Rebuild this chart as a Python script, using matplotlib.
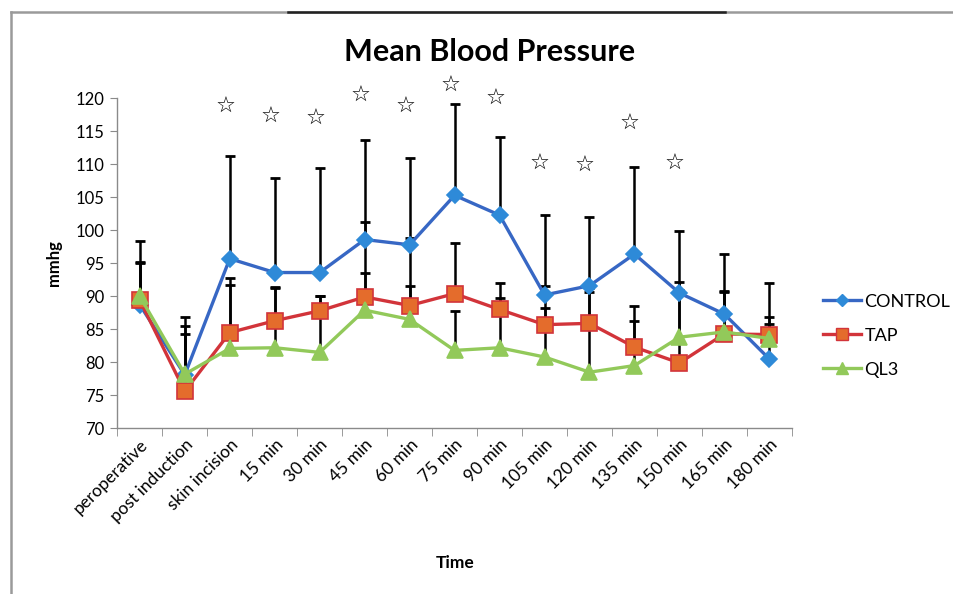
import matplotlib

matplotlib.use("Agg")
import matplotlib.pyplot as plt
import numpy as np
from matplotlib.lines import Line2D

plt.rcParams["font.family"] = ["Lato", "DejaVu Sans"]

# data
labels = ["peroperative", "post induction", "skin incision", "15 min", "30 min",
          "45 min", "60 min", "75 min", "90 min", "105 min", "120 min",
          "135 min", "150 min", "165 min", "180 min"]
control = [88.7, 78.1, 95.7, 93.6, 93.6, 98.6, 97.8, 105.3, 102.3, 90.2, 91.6, 96.4, 90.5, 87.3, 80.5]
tap = [89.4, 75.6, 84.5, 86.3, 87.8, 89.9, 88.6, 90.4, 88.0, 85.7, 85.9, 82.3, 79.9, 84.3, 84.2]
ql3 = [90.0, 78.2, 82.1, 82.2, 81.5, 87.9, 86.5, 81.8, 82.2, 80.8, 78.5, 79.5, 83.8, 84.6, 83.6]
control_top = [98.4, 86.8, 111.3, 107.9, 109.4, 113.7, 111.0, 119.1, 114.1, 102.3, 102.0, 109.6, 99.9, 96.4, 92.0]
tap_top = [95.2, 85.5, 92.7, 91.4, 90.1, 101.3, 98.8, 98.0, 92.0, 91.5, 91.2, 88.6, 92.2, 90.8, 86.8]
ql3_top = [95.1, 84.3, 91.7, 91.2, 90.0, 93.6, 91.5, 87.7, 89.7, 88.3, 90.6, 86.3, 91.0, 90.7, 85.8]
star_idx = [2, 3, 4, 5, 6, 7, 8, 9, 10, 11, 12]
star_y = [118.7, 117.2, 116.9, 120.3, 118.7, 121.9, 119.9, 110.1, 109.8, 116.1, 110.1]

BLUE_LINE = "#3767c4"
BLUE_FILL = "#2e8ad8"
RED_LINE = "#d2343a"
RED_FILL = "#e46c2c"
GREEN = "#92c95a"
AXIS = "#8a8a8a"

fig = plt.figure(figsize=(9.54, 5.94), dpi=100, facecolor="white")
ax = fig.add_axes([0.123, 0.279, 0.707, 0.5555])

x = np.arange(len(labels))

series = [
    (control, control_top, BLUE_LINE, BLUE_FILL, "D", 8.5, "CONTROL"),
    (tap, tap_top, RED_LINE, RED_FILL, "s", 11, "TAP"),
    (ql3, ql3_top, GREEN, GREEN, "^", 11, "QL3"),
]

# upward-only error bars
for vals, tops, *_ in series:
    vals = np.array(vals)
    up = np.array(tops) - vals
    _, caps, _ = ax.errorbar(x, vals, yerr=[np.zeros_like(up), up], fmt="none",
                             ecolor="black", elinewidth=1.8, capsize=3.8,
                             capthick=2.0, zorder=2)
    caps[0].set_visible(False)

handles = []
for vals, tops, lc, fc, mk, ms, name in series:
    ax.plot(x, vals, color=lc, lw=2.4, marker=mk, markersize=ms,
            markerfacecolor=fc, markeredgecolor=lc if mk == "s" else fc,
            markeredgewidth=1.2, zorder=3)
    handles.append(Line2D([0], [0], color=lc, lw=2.4, marker=mk,
                          markersize=ms * 0.75, markerfacecolor=fc,
                          markeredgecolor=lc if mk == "s" else fc))

for i, yv in zip(star_idx, star_y):
    ax.text(x[i] - 0.1, yv, "\u2606", ha="center", va="center", fontsize=16,
            family="DejaVu Sans", clip_on=False, zorder=4)

ax.set_xlim(-0.5, len(labels) - 0.5)
ax.set_ylim(70, 120)
ax.set_yticks(np.arange(70, 121, 5))
ax.set_xticks(x)
ax.set_xticklabels(labels, rotation=45, ha="right", rotation_mode="anchor", fontsize=12.5)
ax.set_xticks(np.arange(-0.5, len(labels), 1), minor=True)
ax.tick_params(axis="x", which="major", length=0, pad=6)
ax.tick_params(axis="x", which="minor", length=6, color=AXIS, direction="out")
ax.tick_params(axis="y", length=5, color=AXIS, labelsize=12, pad=4)

for side in ("top", "right"):
    ax.spines[side].set_visible(False)
for side in ("left", "bottom"):
    ax.spines[side].set_color(AXIS)
    ax.spines[side].set_linewidth(1.0)

ax.set_ylabel("mmhg", fontsize=12, fontweight="bold", labelpad=10)
fig.text(0.477, 0.052, "Time", ha="center", va="center", fontsize=12.5, fontweight="bold")
fig.text(0.513, 0.912, "Mean Blood Pressure", ha="center", va="center",
         fontsize=22, fontweight="bold")

fig.legend(handles, ["CONTROL", "TAP", "QL3"], loc="center left",
           bbox_to_anchor=(0.859, 0.435), frameon=False, fontsize=13,
           handlelength=2.1, handletextpad=0.2, labelspacing=1.0,
           borderaxespad=0.0, borderpad=0.2)

# page frame
fig.add_artist(Line2D([0.0115, 0.0115], [0.0, 0.979], color="#9a9a9a", lw=1.8))
fig.add_artist(Line2D([0.0115, 1.0], [0.979, 0.979], color="#9a9a9a", lw=1.8))
fig.add_artist(Line2D([0.302, 0.76], [0.979, 0.979], color="#222222", lw=1.8))

fig.savefig("out.png", dpi=100, facecolor="white")
